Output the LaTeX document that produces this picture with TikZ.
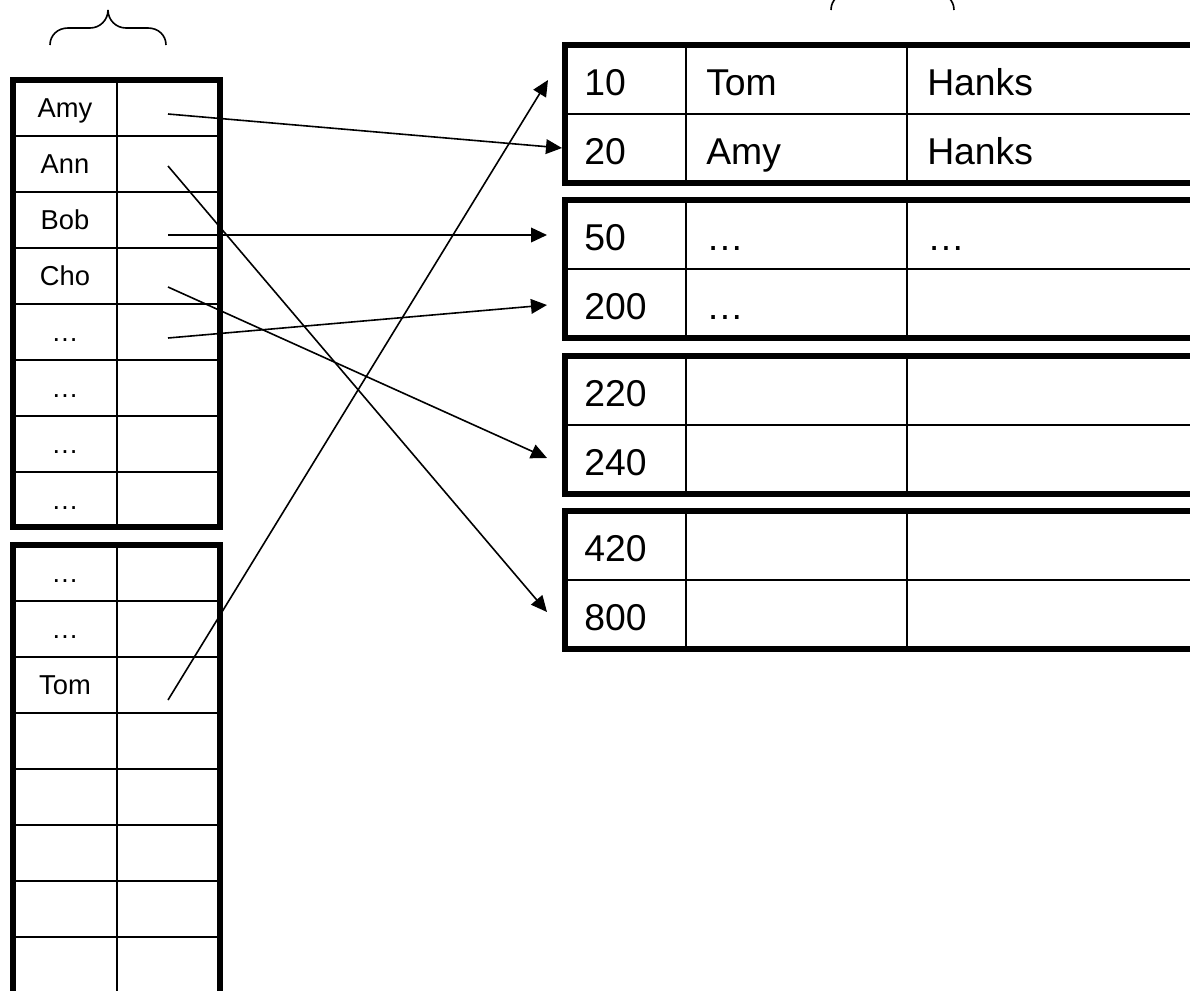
\documentclass[tikz,border=0pt]{standalone}
\usepackage{fontspec}
\setmainfont{Liberation Sans}
\usetikzlibrary{arrows.meta}
\begin{document}
\begin{tikzpicture}[x=0.75pt,y=-0.75pt,
  thickborder/.style={line width=4.5pt, line join=miter},
  thinline/.style={line width=1.5pt},
  ptr/.style={line width=1.2pt, -{Triangle[length=12pt,width=11pt]}},
  lcell/.style={font=\fontsize{20.5}{24}\selectfont, inner sep=0pt, anchor=base},
  rcell/.style={font=\fontsize{28}{32}\selectfont, inner sep=0pt, anchor=base west},
  bracestyle/.style={line width=1.2pt}]
\useasboundingbox (0,0) rectangle (1190,990);
\begin{scope}
\clip (0,0) rectangle (1190,990);
% braces
\draw[bracestyle] (50,45) .. controls (50,35) and (58,28) .. (68,28) -- (90,28)
  .. controls (100,28) and (108,20) .. (108,10)
  .. controls (108,20) and (116,28) .. (126,28) -- (148,28)
  .. controls (158,28) and (166,35) .. (166,45);
\draw[bracestyle] (831,10) .. controls (831,0) and (839,-7) .. (849,-7) -- (874,-7)
  .. controls (884,-7) and (892,-15) .. (892,-25)
  .. controls (892,-15) and (900,-7) .. (910,-7) -- (936,-7)
  .. controls (946,-7) and (954,0) .. (954,10);
% left table, block 1
\foreach \y in {136,192,248,304,360,416,472} \draw[thinline] (13,\y) -- (220,\y);
\draw[thinline] (117,80) -- (117,527);
\draw[thickborder] (13,80) rectangle (220,527);
% left table, block 2
\foreach \y in {601,657,713,769,825,881,937} \draw[thinline] (13,\y) -- (220,\y);
\draw[thinline] (117,545) -- (117,1000);
\draw[thickborder] (13,1010) -- (13,545) -- (220,545) -- (220,1010);
% right table blocks
\foreach \t in {45,200,356,511} {
  \draw[thinline] (565,\t+69) -- (1200,\t+69);
  \draw[thinline] (686,\t) -- (686,\t+138);
  \draw[thinline] (907,\t) -- (907,\t+138);
  \draw[thickborder] (1210,\t) -- (565,\t) -- (565,\t+138) -- (1210,\t+138);
}
\end{scope}
% left texts
\node[lcell] (amy) at (65,117) {Amy};
\node[lcell] (ann) at (65,173) {Ann};
\node[lcell] (bob) at (65,229) {Bob};
\node[lcell] (cho) at (65,285) {Cho};
\node[lcell] (d1) at (65,341) {…};
\node[lcell] (d2) at (65,397) {…};
\node[lcell] (d3) at (65,453) {…};
\node[lcell] (d4) at (65,509) {…};
\node[lcell] (d5) at (65,582) {…};
\node[lcell] (d6) at (65,638) {…};
\node[lcell] (tom) at (65,694) {Tom};
% right texts
\node[rcell] (r10) at (584,95) {10};
\node[rcell] (r10b) at (706,95) {Tom};
\node[rcell] (r10c) at (927,95) {Hanks};
\node[rcell] (r20) at (584,164) {20};
\node[rcell] (r20b) at (706,164) {Amy};
\node[rcell] (r20c) at (927,164) {Hanks};
\node[rcell] (r50) at (584,250) {50};
\node[rcell] (r50b) at (706,250) {…};
\node[rcell] (r50c) at (927,250) {…};
\node[rcell] (r200) at (584,319) {200};
\node[rcell] (r200b) at (706,319) {…};
\node[rcell] (r220) at (584,406) {220};
\node[rcell] (r240) at (584,475) {240};
\node[rcell] (r420) at (584,561) {420};
\node[rcell] (r800) at (584,630) {800};
% pointer coordinates
\coordinate (pAmy) at (168,114);
\coordinate (pAnn) at (168,166);
\coordinate (pBob) at (168,235);
\coordinate (pCho) at (168,287);
\coordinate (pDots) at (168,338);
\coordinate (pTom) at (168,700);
\coordinate (t10) at (548,80);
\coordinate (t20) at (562,148);
\coordinate (t50) at (547,235);
\coordinate (t200) at (547,305);
\coordinate (t240) at (547,458);
\coordinate (t800) at (547,612);
\draw[ptr] (pAmy) -- (t20);
\draw[ptr] (pAnn) -- (t800);
\draw[ptr] (pBob) -- (t50);
\draw[ptr] (pCho) -- (t240);
\draw[ptr] (pDots) -- (t200);
\draw[ptr] (pTom) -- (t10);
\end{tikzpicture}
\end{document}
